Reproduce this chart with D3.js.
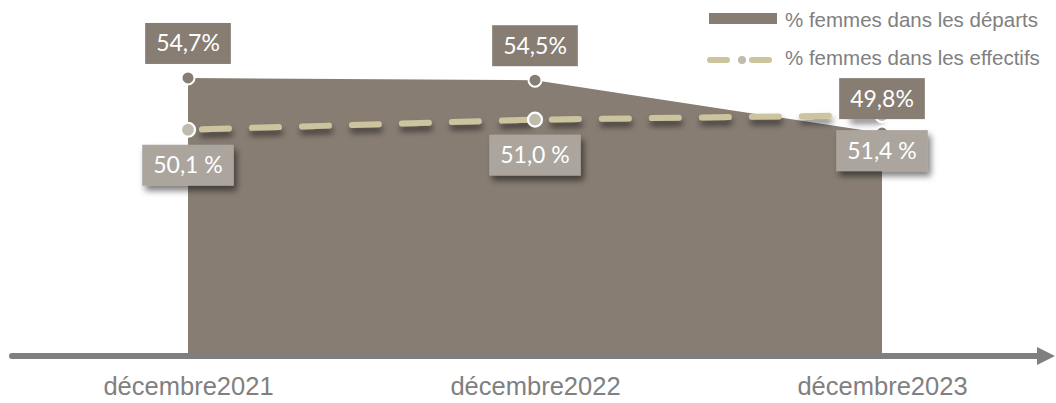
<!DOCTYPE html>
<html>
<head>
<meta charset="utf-8">
<script src="https://cdn.jsdelivr.net/npm/d3@7"></script>
<style>
  body { margin: 0; background: #fff; }
  svg { display: block; }
</style>
</head>
<body>
<svg id="chart" width="1056" height="403"></svg>
<script>
// Share of women among departures and among the workforce, by December snapshot
const categories = ["décembre2021", "décembre2022", "décembre2023"];
const departs = [54.7, 54.5, 49.8];
const effectifs = [50.1, 51.0, 51.4];
const seriesNames = ["% femmes dans les départs", "% femmes dans les effectifs"];

const COLOR_AREA = "#877d73";
const COLOR_LINE = "#cbc49f";
const COLOR_LABEL_EFF = "#aba59e";
const COLOR_DOT_EFF = "#bfbbad";
const COLOR_TEXT = "#808080";

const svg = d3.select("#chart");
const defs = svg.append("defs");

defs.append("filter").attr("id", "boxShadow")
  .attr("x", "-20%").attr("y", "-20%").attr("width", "150%").attr("height", "170%")
  .append("feDropShadow")
  .attr("dx", 3).attr("dy", 5).attr("stdDeviation", 3)
  .attr("flood-color", "#000").attr("flood-opacity", 0.5);

defs.append("filter").attr("id", "lineShadow")
  .attr("x", "-5%").attr("y", "-100%").attr("width", "110%").attr("height", "400%")
  .append("feDropShadow")
  .attr("dx", 1).attr("dy", 5).attr("stdDeviation", 3)
  .attr("flood-color", "#000").attr("flood-opacity", 0.55);

const x = d3.scalePoint().domain(categories).range([188, 882]);
const y = d3.scaleLinear().domain([30, 60]).range([356, 18.3]);

const comma = v => d3.format(".1f")(v).replace(".", ",");
const labelDeparts = v => comma(v) + "%";
const labelEffectifs = v => comma(v) + " %";

// Departures: filled area down to the axis
const area = d3.area()
  .x((d, i) => x(categories[i]))
  .y0(y(30))
  .y1(d => y(d));
svg.append("path")
  .datum(departs)
  .attr("d", area)
  .attr("fill", COLOR_AREA);

// Workforce: dashed line with a soft shadow
const line = d3.line()
  .x((d, i) => x(categories[i]))
  .y(d => y(d));
svg.append("path")
  .datum(effectifs)
  .attr("d", line)
  .attr("fill", "none")
  .attr("stroke", COLOR_LINE)
  .attr("stroke-width", 6)
  .attr("stroke-linecap", "round")
  .attr("stroke-dasharray", "27,23")
  .attr("stroke-dashoffset", -14)
  .attr("filter", "url(#lineShadow)");

// Point markers
svg.append("g").selectAll("circle")
  .data(departs)
  .join("circle")
  .attr("cx", (d, i) => x(categories[i]))
  .attr("cy", d => y(d))
  .attr("r", 6.5)
  .attr("fill", COLOR_AREA)
  .attr("stroke", "#fff")
  .attr("stroke-width", 2);

svg.append("g").selectAll("circle")
  .data(effectifs)
  .join("circle")
  .attr("cx", (d, i) => x(categories[i]))
  .attr("cy", d => y(d))
  .attr("r", 7)
  .attr("fill", COLOR_DOT_EFF)
  .attr("stroke", "#fff")
  .attr("stroke-width", 2.2);

// Value labels in boxes
function drawLabels(values, fmt, fill, above, shadow) {
  const g = svg.append("g");
  values.forEach((v, i) => {
    const cx = x(categories[i]);
    const lg = g.append("g");
    const t = lg.append("text")
      .attr("x", cx)
      .attr("text-anchor", "middle")
      .attr("font-family", "Lato, 'Open Sans', sans-serif")
      .attr("font-size", 23)
      .attr("fill", "#fff")
      .text(fmt(v));
    const w = t.node().getComputedTextLength() + 22;
    const h = 41;
    const top = above ? y(v) - 14 - h : y(v) + 15;
    lg.insert("rect", "text")
      .attr("x", cx - w / 2)
      .attr("y", top)
      .attr("width", w)
      .attr("height", h)
      .attr("fill", fill)
      .attr("filter", shadow ? "url(#boxShadow)" : null);
    t.attr("y", top + h / 2 + 8);
  });
}
drawLabels(departs, labelDeparts, COLOR_AREA, true, false);
drawLabels(effectifs, labelEffectifs, COLOR_LABEL_EFF, false, true);

// Horizontal axis with arrow
const axisY = 356;
svg.append("line")
  .attr("x1", 12).attr("x2", 1040)
  .attr("y1", axisY).attr("y2", axisY)
  .attr("stroke", "#7f7f7f")
  .attr("stroke-width", 6)
  .attr("stroke-linecap", "round");
svg.append("path")
  .attr("d", `M1037,${axisY - 9}L1055,${axisY}L1037,${axisY + 9}Z`)
  .attr("fill", "#7f7f7f");

const xAxis = d3.axisBottom(x).tickSize(0).tickPadding(0);
const axisG = svg.append("g")
  .attr("transform", `translate(0,${axisY})`)
  .call(xAxis);
axisG.select(".domain").remove();
axisG.selectAll("text")
  .attr("y", 39)
  .attr("dy", 0)
  .attr("font-family", "'Liberation Sans', Arial, sans-serif")
  .attr("font-size", 25.5)
  .attr("fill", COLOR_TEXT);

// Legend
const legend = svg.append("g");
legend.append("rect")
  .attr("x", 709).attr("y", 13).attr("width", 68).attr("height", 11)
  .attr("fill", COLOR_AREA);
legend.append("line")
  .attr("x1", 710).attr("x2", 727).attr("y1", 60).attr("y2", 60)
  .attr("stroke", COLOR_LINE).attr("stroke-width", 6).attr("stroke-linecap", "round");
legend.append("line")
  .attr("x1", 752).attr("x2", 769).attr("y1", 60).attr("y2", 60)
  .attr("stroke", COLOR_LINE).attr("stroke-width", 6).attr("stroke-linecap", "round");
legend.append("circle")
  .attr("cx", 742).attr("cy", 60).attr("r", 4)
  .attr("fill", COLOR_DOT_EFF);
legend.selectAll("text")
  .data(seriesNames)
  .join("text")
  .attr("x", 785)
  .attr("y", (d, i) => 26.5 + i * 38.5)
  .attr("font-family", "'Liberation Sans', Arial, sans-serif")
  .attr("font-size", 20.5)
  .attr("fill", COLOR_TEXT)
  .text(d => d);
</script>
</body>
</html>
